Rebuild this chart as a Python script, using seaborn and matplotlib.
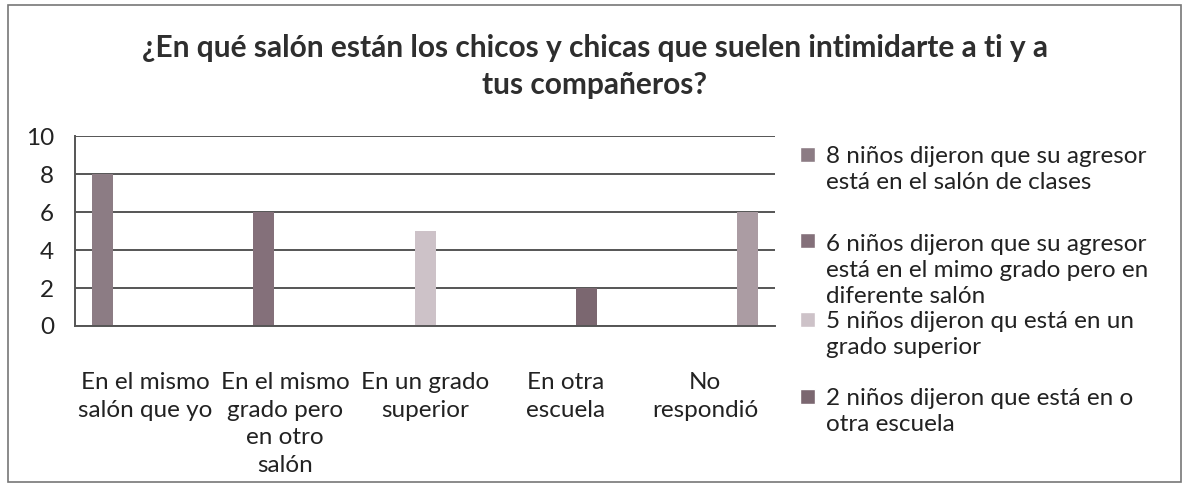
import matplotlib
matplotlib.use("Agg")
import matplotlib.pyplot as plt
import seaborn as sns
import pandas as pd
from matplotlib.patches import Rectangle
from matplotlib.legend_handler import HandlerPatch

categories = ["En el mismo\nsalón que yo", "En el mismo\ngrado pero\nen otro\nsalón",
              "En un grado\nsuperior", "En otra\nescuela", "No\nrespondió"]
series = ["8 niños dijeron que su agresor\nestá en el salón de clases",
          "6 niños dijeron que su agresor\nestá en el mimo grado pero en\ndiferente salón",
          "5 niños dijeron qu está en un\ngrado superior",
          "2 niños dijeron que está en o\notra escuela",
          "No respondió"]
values = [8, 6, 5, 2, 6]
colors = ["#8c7c84", "#84707a", "#cdc2c8", "#7b6770", "#ab9ca3"]

rows = []
for i, s in enumerate(series):
    for j, c in enumerate(categories):
        rows.append({"cat": c, "serie": s, "val": values[i] if i == j else 0})
df = pd.DataFrame(rows)

sns.set_theme(style="white")
plt.rcParams["font.family"] = ["Lato", "DejaVu Sans"]

TXT = "#222222"
fig = plt.figure(figsize=(11.89, 4.88), dpi=100)
ax = fig.add_axes([0.063, 0.332, 0.589, 0.389])

sns.barplot(data=df, x="cat", y="val", hue="serie", palette=colors,
            width=0.75, ax=ax, legend=False, saturation=1, edgecolor="none")

ax.set_ylim(0, 10)
ax.set_yticks([0, 2, 4, 6, 8, 10])
ax.yaxis.grid(True, color="#555555", linewidth=1.4)
ax.set_axisbelow(True)
ax.set_xlabel("")
ax.set_ylabel("")
for s in ["top", "right"]:
    ax.spines[s].set_visible(False)
for s in ["left", "bottom"]:
    ax.spines[s].set_color("#555555")
    ax.spines[s].set_linewidth(1.4)
ax.tick_params(axis="both", length=0, labelsize=17.5, colors=TXT)
ax.tick_params(axis="x", pad=33)
ax.tick_params(axis="y", pad=15)
for t in ax.get_xticklabels():
    t.set_linespacing(1.4)
ax.set_xlim(-0.5, 4.5)

fig.text(0.5, 0.863, "¿En qué salón están los chicos y chicas que suelen intimidarte a ti y a\ntus compañeros?",
         ha="center", va="center", fontsize=21.5, fontweight="bold", color="#2e2e2e", linespacing=1.4)

LS = 1.3
FS = 17.5


def make_handler(nlines):
    def patch_func(legend, orig_handle, xdescent, ydescent, width, height, fontsize):
        s = 0.62 * fontsize
        pitch = fontsize * LS * 0.96
        cy = -ydescent + height / 2 + (nlines - 1) / 2 * pitch
        return Rectangle((-xdescent, cy - s / 2), s, s)
    return HandlerPatch(patch_func=patch_func)


legend_y = [0.701, 0.520, 0.363, 0.205]
for i in range(4):
    h = Rectangle((0, 0), 1, 1, facecolor=colors[i])
    n = series[i].count("\n") + 1
    leg = fig.legend(handles=[h], labels=[series[i]], loc="upper left",
                     bbox_to_anchor=(0.673, legend_y[i]), frameon=False, fontsize=FS,
                     handlelength=0.62, handleheight=0.62, handletextpad=0.45,
                     borderpad=0, borderaxespad=0,
                     handler_map={Rectangle: make_handler(n)})
    for t in leg.get_texts():
        t.set_linespacing(LS)
        t.set_color(TXT)

fig.add_artist(Rectangle((0.007, 0.012), 0.986, 0.978, transform=fig.transFigure,
                         fill=False, edgecolor="#777777", linewidth=1.2))

fig.savefig("out.png", dpi=100)
